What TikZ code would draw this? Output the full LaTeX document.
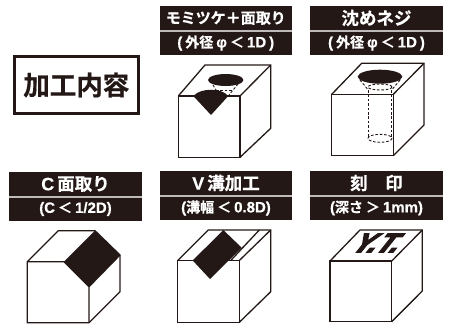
\documentclass[tikz,border=0pt]{standalone}
\usepackage{fontspec}
\setmainfont{Liberation Sans}
\newfontfamily\jp{Noto Sans CJK JP}[BoldFont={* Bold},BoldFeatures={FakeBold=0.6}]
\newfontfamily\latn{Liberation Sans}[BoldFeatures={FakeBold=0.5}]
\newfontfamily\heavy{Liberation Sans Bold}[FakeSlant=0.8,FakeStretch=1.05,FakeBold=5]
\newcommand{\lat}[1]{{\latn\bfseries\fontsize{15}{15}\selectfont #1}}
\newcommand{\gap}{\hspace{3pt}}
\definecolor{ink}{HTML}{231815}
\tikzset{
  edge/.style={draw=ink,line width=1.3pt,line join=miter},
  hid/.style={draw=ink,line width=0.9pt,dash pattern=on 2.6pt off 1.8pt},
  solid fill/.style={fill=ink,draw=none},
  band/.style={fill=ink,draw=none},
  headA/.style={text=white,font=\jp\bfseries\fontsize{17.5}{18}\selectfont,inner sep=0pt,anchor=center},
  headB/.style={text=white,font=\jp\bfseries\fontsize{14}{14}\selectfont,inner sep=0pt,anchor=center},
}
\newcommand{\heading}[8]{% name,x0,x1,y0,ymid,y1,top,bottom
  \fill[band] (#2,#4) rectangle (#3,#6);
  \fill[white!70!ink] (#2,#5-0.7) rectangle (#3,#5+0.7);
  \node[headA] (#1a) at ({(#2+#3)/2},{(#4+#5)/2-0.5}) {#7};
  \node[headB] (#1b) at ({(#2+#3)/2},{(#5+#6)/2}) {#8};
}
\begin{document}
\begin{tikzpicture}[x=1pt,y=-1pt]
\useasboundingbox (0,0) rectangle (452,325);
% left title
\node[draw=ink,line width=3pt,minimum width=124.5pt,minimum height=57.5pt,inner sep=0pt,text=ink,font=\jp\bfseries\fontsize{26.5}{27}\selectfont] (title) at (76.3,85) {加工内容};
% headings
\heading{h1}{159.5}{292}{6}{31}{55}{{\fontsize{15}{15}\selectfont モミツケ＋面取り}}{\lat{(}\gap 外径\gap\lat{φ}\gap ＜\gap\lat{1D}\gap\lat{)}}
\heading{h2}{310}{443}{6}{31}{55}{沈めネジ}{\lat{(}\gap 外径\gap\lat{φ}\gap ＜\gap\lat{1D}\gap\lat{)}}
\heading{h3}{9}{142}{172}{197}{221}{\lat{\fontsize{18}{18}\selectfont C}\gap 面取り}{\lat{(C}\gap ＜\gap\lat{1/2D)}}
\heading{h4}{160}{292}{171}{196}{220}{\lat{\fontsize{18}{18}\selectfont V}\gap 溝加工}{\lat{(}溝幅\gap ＜\gap\lat{0.8D)}}
\heading{h5}{310}{443}{171}{196}{220}{刻　印}{\lat{(}深さ\gap ＞\gap\lat{1mm)}}
% cube 1
\draw[edge] (178.3,96) rectangle (240,157.3);
\draw[edge] (178.3,96) -- (205,65) -- (270.7,65) -- (270.7,128.3) -- (240,157.3);
\draw[edge] (240,96) -- (270.7,65);
\fill[solid fill] (225.7,80) ellipse (17.7 and 6);
\fill[solid fill] (193.3,96) .. controls (198,91) and (205,89.8) .. (211,89.8) .. controls (217,89.8) and (224,91) .. (228.3,96) -- (211,115) -- cycle;
\draw[hid] (213,85) -- (219,95);
\draw[hid] (238,84) -- (229,95);
\draw[hid] (216,90) -- (232,90);
% cube 2
\draw[edge] (331.7,94.3) rectangle (393.3,155.7);
\draw[edge] (331.7,94.3) -- (361.7,63.3) -- (424,63.3) -- (424,125) -- (393.3,155.7);
\draw[edge] (393.3,94.3) -- (424,63.3);
\fill[solid fill] (380,76.7) ellipse (22.3 and 7);
\draw[hid] (360,80) -- (368.3,90);
\draw[hid] (400,80) -- (391.7,90);
\draw[hid] (380,87) ellipse (12 and 3);
\draw[hid] (368.3,90) -- (368.3,138.3);
\draw[hid] (391.7,90) -- (391.7,138.3);
\draw[hid] (380,138.3) ellipse (12 and 4);
% cube 3
\fill[solid fill] (95,230.7) -- (120,255) -- (89,286.7) -- (64,261.7) -- cycle;
\draw[edge] (27.3,261.7) -- (58.3,230.7) -- (95,230.7) -- (120,255) -- (120,291.7) -- (89,322.7) -- (27.3,322.7) -- cycle;
\draw[edge] (27.3,261.7) -- (64,261.7) -- (89,286.7) -- (89,322.7);
\draw[edge] (89,286.7) -- (120,255);
% cube 4
\draw[edge] (177.7,260.5) rectangle (239.3,322.3);
\draw[edge] (177.7,260.5) -- (208.3,230) -- (270.7,230) -- (270.7,291.7) -- (239.3,322.3);
\draw[edge] (239.3,260.5) -- (270.7,230);
\fill[solid fill] (192.7,260.5) -- (223.3,230) -- (241.7,247.7) -- (210,279) -- cycle;
\draw[edge] (230.7,260.5) -- (259.3,230);
% cube 5
\draw[edge] (330,261) rectangle (391.7,321.7);
\draw[edge] (330,261) -- (360,230) -- (422.3,230) -- (422.3,291) -- (391.7,321.7);
\draw[edge] (391.7,261) -- (422.3,230);
\node[text=ink,inner sep=0pt,font=\heavy\fontsize{27}{27}\selectfont] (mark) at (372,243) {Y.T.};
\end{tikzpicture}
\end{document}
